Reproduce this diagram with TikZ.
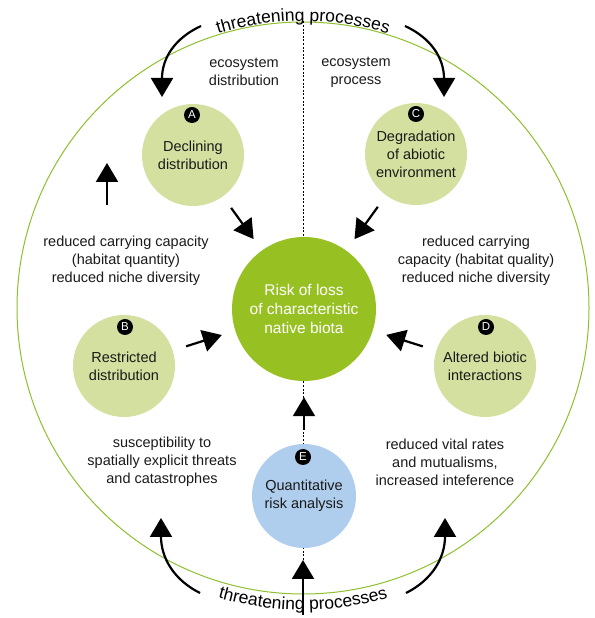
\documentclass[tikz,border=0pt]{standalone}
\usepackage{fontspec}
\setmainfont{Liberation Sans}
\usetikzlibrary{arrows.meta,decorations.text}
\definecolor{ringgreen}{HTML}{8DBF2E}
\definecolor{palegreen}{HTML}{D3E09F}
\definecolor{riskgreen}{HTML}{97C123}
\definecolor{paleblue}{HTML}{AFCDEC}
\definecolor{inkgrey}{HTML}{1A1A1A}
\begin{document}
\begin{tikzpicture}[x=1pt,y=1pt,
  font=\fontsize{14.5}{18}\selectfont,
  stage/.style={circle, fill=palegreen, minimum size=102pt, inner sep=0pt, align=center, text=inkgrey},
  badge/.style={circle, fill=black, text=white, minimum size=16pt, inner sep=0pt, font=\fontsize{11.5}{11.5}\selectfont},
  flow/.style={-{Triangle[width=22pt,length=19pt]}, line width=2.2pt, shorten <=14pt, shorten >=14pt},
  curvedflow/.style={-{Triangle[width=22pt,length=19pt]}, line width=2.2pt},
  note/.style={align=center, text=inkgrey, inner sep=0pt},
  divider/.style={line width=0.6pt, dash pattern=on 2pt off 1.6pt}
]
\useasboundingbox (0,0) rectangle (594,618);

% outer ring
\node[circle, draw=ringgreen, line width=1pt, minimum size=572pt, inner sep=0pt] (ring) at (303,310) {};

% coordinates for free arrow ends
\coordinate (tlS) at (201,592);
\coordinate (tlE) at (162,521);
\coordinate (trS) at (405,592);
\coordinate (trE) at (444,521);
\coordinate (blS) at (200,25);
\coordinate (blE) at (161,100);
\coordinate (brS) at (406,25);
\coordinate (brE) at (445,100);
\coordinate (bmS) at (303,3);
\coordinate (bmE) at (303,58);
\coordinate (upS) at (107,413);
\coordinate (upE) at (107,455);

% dashed divider
\draw[divider] (ring.north) -- (bmE);

% circles
\node[circle, fill=riskgreen, minimum size=144pt, inner sep=0pt, align=center, text=white,
      font=\fontsize{15.5}{19}\selectfont] (R) at (304,309) {Risk of loss\\of characteristic\\native biota};
\node[stage] (A) at (193,463) {Declining\\distribution};
\node[stage] (C) at (416,464) {Degradation\\of abiotic\\environment};
\node[stage] (B) at (124,252) {Restricted\\distribution};
\node[stage] (D) at (485,252) {Altered biotic\\interactions};
\node[stage, fill=paleblue, minimum size=104pt] (E) at (304,122) {Quantitative\\risk analysis};

% badges
\node[badge] (bA) at (192,503) {A};
\node[badge] (bC) at (416,504) {C};
\node[badge] (bB) at (125,291) {B};
\node[badge] (bD) at (486,291) {D};
\node[badge] (bE) at (303,161) {E};

% texts
\node[note] (t1) at (244,546) {ecosystem\\distribution};
\node[note] (t2) at (356,546) {ecosystem\\process};
\node[note] (t3) at (126,357) {reduced carrying capacity\\(habitat quantity)\\reduced niche diversity};
\node[note] (t4) at (476,357) {reduced carrying\\capacity (habitat quality)\\reduced niche diversity};
\node[note] (t5) at (162,156) {susceptibility to\\spatially explicit threats\\and catastrophes};
\node[note] (t6) at (445,156) {reduced vital rates\\and mutualisms,\\increased inteference};

% arrows into the centre
\draw[flow] (A) -- (R);
\draw[flow] (C) -- (R);
\draw[flow] (B) -- (R);
\draw[flow] (D) -- (R);
\draw[flow, shorten >=16pt] (E) -- (R);
\draw[curvedflow] (upS) -- (upE);

% threatening process arrows
\draw[curvedflow] (tlS) .. controls (175,580) and (162,560) .. (tlE);
\draw[curvedflow] (trS) .. controls (431,580) and (444,560) .. (trE);
\draw[curvedflow] (blS) .. controls (174,38) and (161,60) .. (blE);
\draw[curvedflow] (brS) .. controls (432,38) and (445,60) .. (brE);
\draw[curvedflow] (bmS) -- (bmE);

% curved titles
\path[decorate, decoration={text along path, text align=center,
   text={|\fontsize{17.5}{20}\selectfont|threatening processes}}]
   (303,310) ++(120:287) arc[start angle=120, end angle=60, radius=287];
\path[decorate, decoration={text along path, text align=center,
   text={|\fontsize{17.5}{20}\selectfont|threatening processes}}]
   (303,310) ++(240:302) arc[start angle=240, end angle=300, radius=302];
\end{tikzpicture}
\end{document}
